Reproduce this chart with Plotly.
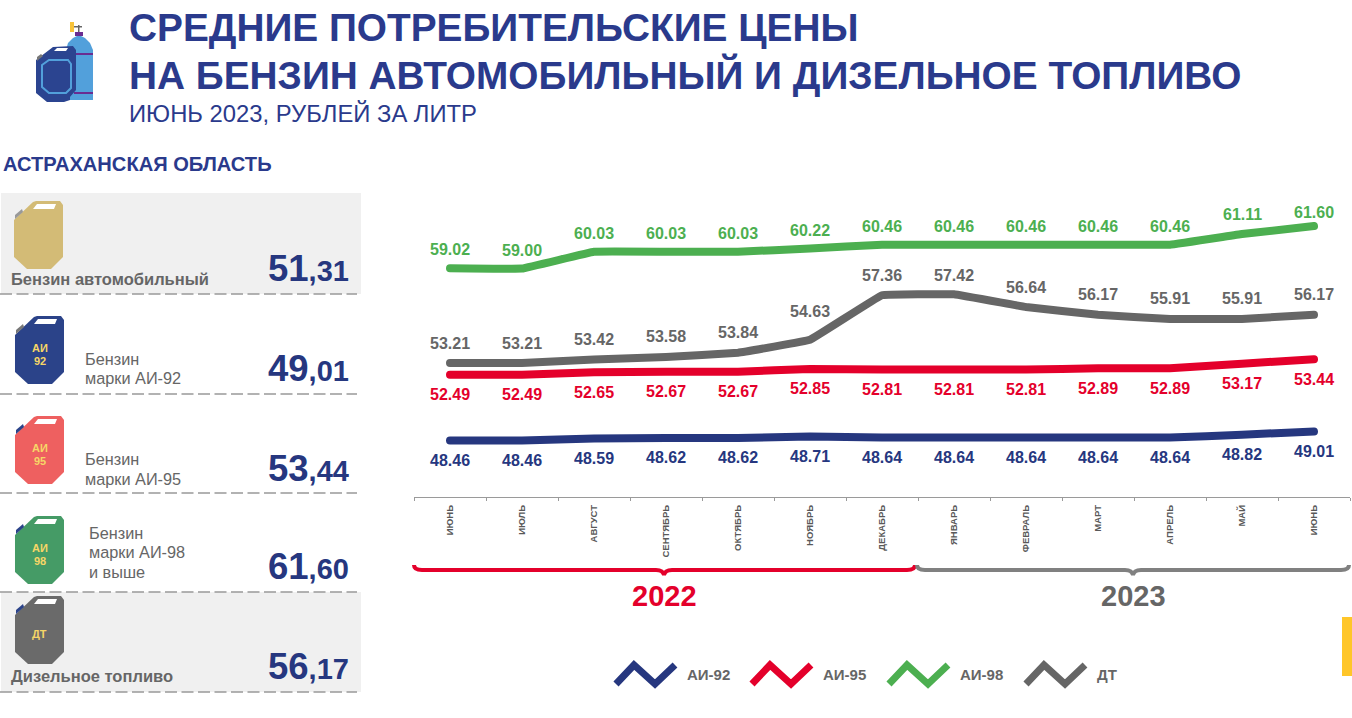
import plotly.graph_objects as go

# ---------- data ----------
months = ["ИЮНЬ", "ИЮЛЬ", "АВГУСТ", "СЕНТЯБРЬ", "ОКТЯБРЬ", "НОЯБРЬ", "ДЕКАБРЬ",
          "ЯНВАРЬ", "ФЕВРАЛЬ", "МАРТ", "АПРЕЛЬ", "МАЙ", "ИЮНЬ"]
ai92 = [48.46, 48.46, 48.59, 48.62, 48.62, 48.71, 48.64, 48.64, 48.64, 48.64, 48.64, 48.82, 49.01]
ai95 = [52.49, 52.49, 52.65, 52.67, 52.67, 52.85, 52.81, 52.81, 52.81, 52.89, 52.89, 53.17, 53.44]
ai98 = [59.02, 59.00, 60.03, 60.03, 60.03, 60.22, 60.46, 60.46, 60.46, 60.46, 60.46, 61.11, 61.60]
dt = [53.21, 53.21, 53.42, 53.58, 53.84, 54.63, 57.36, 57.42, 56.64, 56.17, 55.91, 55.91, 56.17]
series_names = ["АИ-92", "АИ-95", "АИ-98", "ДТ"]
kpi_values = ["51,31", "49,01", "53,44", "61,60", "56,17"]

NAVY = "#26377F"
RED = "#E4002B"
GREEN = "#4CAF50"
GRAY = "#666666"
W, H = 1352, 718
FONT = "Liberation Sans"


def px(x):
    return x / W


def py(y):
    return 1 - y / H


shapes = []
annots = []


def path(points, fill=None, line=None, lw=0, close=True):
    d = "M" + " L".join(f"{px(a):.5f},{py(b):.5f}" for a, b in points) + (" Z" if close else "")
    shapes.append(dict(type="path", xref="paper", yref="paper", path=d,
                       fillcolor=fill if fill else "rgba(0,0,0,0)",
                       line=dict(color=line if line else "rgba(0,0,0,0)", width=lw), layer="above"))


def rect(x0, y0, x1, y1, color):
    shapes.append(dict(type="rect", xref="paper", yref="paper", x0=px(x0), x1=px(x1),
                       y0=py(y0), y1=py(y1), fillcolor=color, line=dict(width=0), layer="below"))


def text(x, y, s, size, color, bold=False, anchor="left"):
    annots.append(dict(xref="paper", yref="paper", x=px(x), y=py(y),
                       text=f"<b>{s}</b>" if bold else s, showarrow=False,
                       xanchor=anchor, yanchor="middle", align="left",
                       font=dict(family=FONT, size=size, color=color),
                       borderpad=0, borderwidth=0))


def can(dx, dy, body, cap, label=None):
    """jerrycan icon, (dx, dy) = top-left of a 49x68 box"""
    pts = [(0, 19), (19, 1), (22, 0), (46, 0), (49, 4), (49, 56), (37, 68), (13, 68), (0, 56)]
    path([(dx + a, dy + b) for a, b in pts], fill=body)
    path([(dx + a, dy + b) for a, b in [(19, 8), (23, 3), (42, 3), (40, 8)]], fill="#FFFFFF")
    path([(dx + a, dy + b) for a, b in [(1, 14), (8, 8), (9, 11), (1, 18)]], fill=cap)
    if label:
        if len(label) == 2:
            text(dx + 24.5, dy + 32, label[0], 11, "#F6D667", True, "center")
            text(dx + 24.5, dy + 44.5, label[1], 11, "#F6D667", True, "center")
        else:
            text(dx + 24.5, dy + 38, label[0], 11, "#F6D667", True, "center")


def kpi(x, y, value):
    a, b = value.split(",")
    annots.append(dict(xref="paper", yref="paper", x=px(x), y=py(y), xanchor="left", yanchor="middle",
                       showarrow=False, align="left", borderpad=0,
                       text=f'<b>{a}<span style="font-size:29px">,{b}</span></b>',
                       font=dict(family=FONT, size=36.5, color=NAVY)))


# ---------- panel backgrounds ----------
rect(1, 193, 361, 294, "#F0F0F0")
rect(1, 592, 361, 692, "#F0F0F0")
for yy in [294, 394, 493, 592, 692]:
    shapes.append(dict(type="line", xref="paper", yref="paper", x0=px(0), x1=px(357), y0=py(yy), y1=py(yy),
                       line=dict(color="#999999", width=1.6, dash="12px,4.5px"), layer="above"))

# ---------- top icon ----------
path([(66, 100), (66, 50), (68, 43), (73, 38), (79, 35), (85, 38), (90, 43), (93, 50), (93, 100)], fill="#52A0DB")
path([(75, 36), (75, 32), (83, 32), (83, 36)], fill="#6A2C91")
path([(72, 26), (82, 26), (82, 27.5), (72, 27.5)], fill="#666666")
path([(78, 25), (79.5, 25), (79.5, 32), (78, 32)], fill="#666666")
path([(70, 22), (74, 22), (74, 32), (70, 32)], fill="#F8C33A")
path([(74, 53), (93, 53), (93, 55), (74, 55)], fill="#6A2C91")
path([(74, 92), (93, 92), (93, 94), (74, 94)], fill="#6A2C91")
path([(36, 60), (53, 47), (73, 46), (76, 50), (76, 90), (70, 97), (70, 100), (64, 102), (47, 102), (36, 93)], fill="#2B4490")
path([(54, 51), (57, 48), (68, 48), (66, 51)], fill="#FFFFFF")
path([(37, 57), (41, 54), (43, 56), (37, 61)], fill="#777777")
path([(42, 65), (49, 60), (68, 60), (71, 64), (71, 88), (66, 93), (49, 93), (42, 87)],
     line="#52A0DB", lw=2)

# ---------- left panel ----------
can(14, 201, "#D3BB76", "#999999")
can(15, 316, "#2B4389", "#777777", ["АИ", "92"])
can(15, 416, "#EE6060", "#2B4389", ["АИ", "95"])
can(15, 516, "#459B66", "#2B4389", ["АИ", "98"])
can(15, 596, "#6A6A6A", "#2B4389", ["ДТ"])

text(11, 279, "Бензин автомобильный", 16.5, GRAY, True)
text(85, 359, "Бензин", 16.3, GRAY)
text(85, 378, "марки АИ-92", 16.3, GRAY)
text(85, 459, "Бензин", 16.3, GRAY)
text(85, 479, "марки АИ-95", 16.3, GRAY)
text(89, 533, "Бензин", 16.3, GRAY)
text(89, 552, "марки АИ-98", 16.3, GRAY)
text(89, 572, "и выше", 16.3, GRAY)
text(11, 676, "Дизельное топливо", 16.5, GRAY, True)

for yy, v in zip([268, 368, 468, 566, 666], kpi_values):
    kpi(267, yy, v)

# ---------- titles ----------
text(129, 28, "СРЕДНИЕ ПОТРЕБИТЕЛЬСКИЕ ЦЕНЫ", 38.8, "#2A3A8C", True)
text(129, 75, "НА БЕНЗИН АВТОМОБИЛЬНЫЙ И ДИЗЕЛЬНОЕ ТОПЛИВО", 38.8, "#2A3A8C", True)
text(129, 113, "ИЮНЬ 2023, РУБЛЕЙ ЗА ЛИТР", 23.8, "#2A3A8C")
text(3, 164, "АСТРАХАНСКАЯ ОБЛАСТЬ", 20.1, "#2A3A8C", True)

# ---------- braces ----------


def brace(x0, x1, xm, top, bot, color):
    d = (f"M{px(x0)},{py(top)} Q{px(x0)},{py(bot-3)} {px(x0+8)},{py(bot-3)} "
         f"L{px(xm-8)},{py(bot-3)} Q{px(xm-1)},{py(bot-3)} {px(xm)},{py(bot+2)} "
         f"Q{px(xm+1)},{py(bot-3)} {px(xm+8)},{py(bot-3)} "
         f"L{px(x1-8)},{py(bot-3)} Q{px(x1)},{py(bot-3)} {px(x1)},{py(top)}")
    shapes.append(dict(type="path", xref="paper", yref="paper", path=d,
                       line=dict(color=color, width=4), fillcolor="rgba(0,0,0,0)"))


brace(414, 915, 664, 565, 573, RED)
brace(917, 1349, 1133, 565, 573, "#808080")
text(664, 596, "2022", 29, RED, True, "center")
text(1133, 596, "2023", 29, GRAY, True, "center")

# ---------- custom legend ----------
for x0, name, col in zip([616, 752, 889, 1026], series_names, [NAVY, RED, GREEN, GRAY]):
    path([(x0, 684), (x0 + 18, 665), (x0 + 39, 684), (x0 + 59, 665)], line=col, lw=7, close=False)
    text(x0 + 71, 674, name, 15, GRAY, True)

# yellow marker
rect(1342, 617, 1352, 676, "#FFC629")

# ---------- chart ----------
x = list(range(len(months)))
fig = go.Figure()
label_cfg = [(ai92, NAVY, "АИ-92", 20, {}),
             (ai95, RED, "АИ-95", 20, {}),
             (ai98, GREEN, "АИ-98", -18.5, {11: -20, 12: -14}),
             (dt, GRAY, "ДТ", -20, {5: -28, 7: -19})]
for vals, col, name, off, special in label_cfg:
    fig.add_trace(go.Scatter(x=x, y=vals, mode="lines", name=name, showlegend=False, hoverinfo="x+y",
                             line=dict(color=col, width=8, shape="spline", smoothing=0.15)))
    for i, v in enumerate(vals):
        shift = special.get(i, off)
        annots.append(dict(x=i, y=v, xref="x", yref="y", text=f"<b>{v:.2f}</b>", showarrow=False,
                           yshift=-shift, xanchor="center", yanchor="middle",
                           font=dict(family=FONT, size=16, color=col)))

fig.update_layout(
    width=W, height=H, autosize=False, margin=dict(l=0, r=0, t=0, b=0),
    paper_bgcolor="white", plot_bgcolor="white", showlegend=False,
    font=dict(family=FONT), shapes=shapes, annotations=annots,
    xaxis=dict(domain=[px(414), px(1350)], range=[-0.5, 12.5], tickmode="array", tickvals=x,
               ticktext=[f"<b>{m}</b>" for m in months],
               tickangle=-90, tickfont=dict(family=FONT, size=9.5, color="#595959"), ticks="",
               showgrid=False, zeroline=False, showline=True, linecolor="#9A9A9A", linewidth=1.3,
               ticklabelstandoff=3,
               minor=dict(tick0=-0.5, dtick=1, ticks="outside", ticklen=3, tickcolor="#9A9A9A", tickwidth=1, showgrid=False)),
    yaxis=dict(domain=[py(497), py(186.9)], range=[45, 64], visible=False),
)
fig.write_html("out.html", config=dict(displayModeBar=False),
               post_script="document.body.style.margin='0';document.body.style.overflow='hidden';"
                           "document.querySelectorAll('.js-line').forEach(function(e){e.style.strokeLinecap='round';});")
